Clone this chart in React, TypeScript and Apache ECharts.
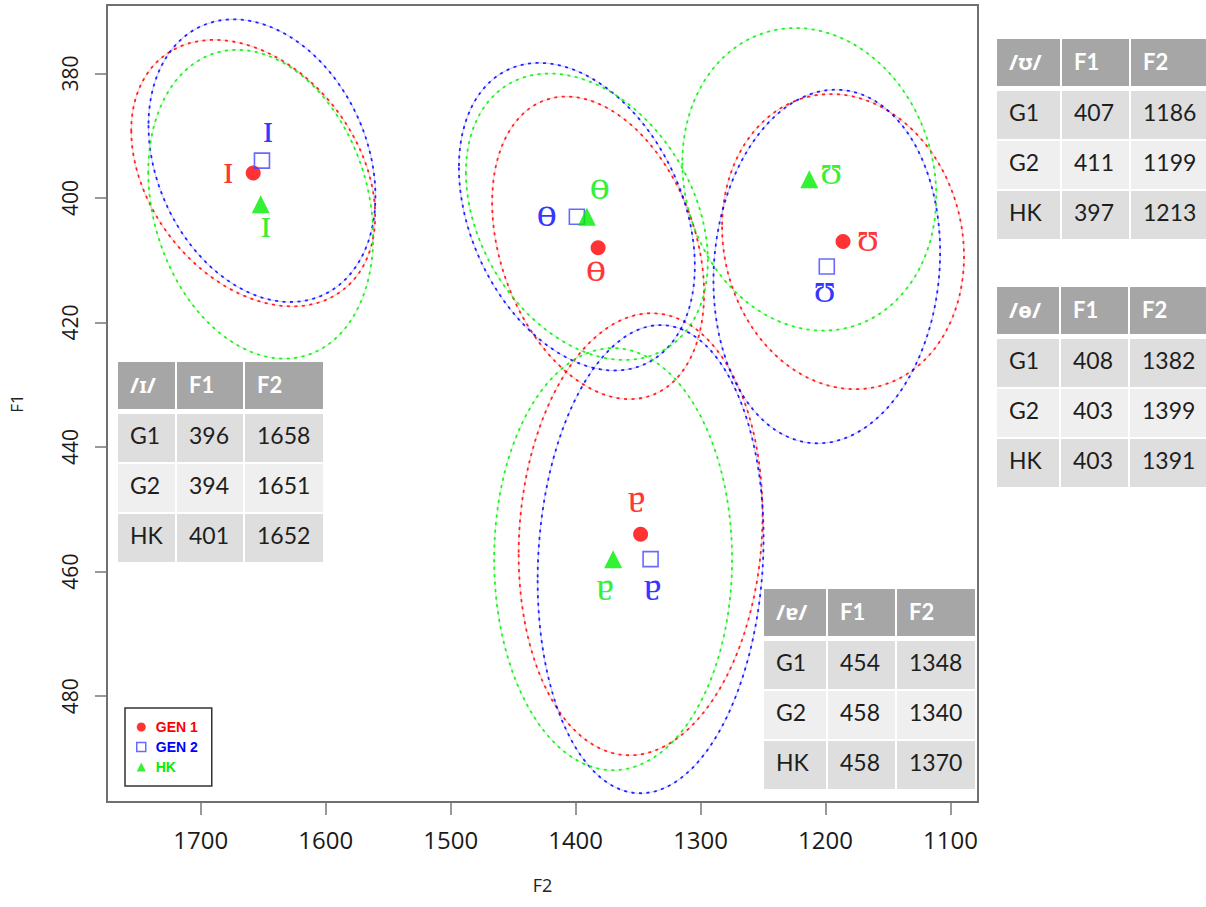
import React, { useEffect, useRef } from "react";
import * as echarts from "echarts";

// ---------------- data ----------------
const vowels = ["ɪ", "ɵ", "ʊ", "ɐ"];
const groups = ["G1", "G2", "HK"];
const seriesNames = ["GEN 1", "GEN 2", "HK"];
// F1 per vowel: [G1, G2, HK]
const f1Values = [
  [396, 394, 401],
  [408, 403, 403],
  [407, 411, 397],
  [454, 458, 458],
];
// F2 per vowel: [G1, G2, HK]
const f2Values = [
  [1658, 1651, 1652],
  [1382, 1399, 1391],
  [1186, 1199, 1213],
  [1348, 1340, 1370],
];
// ellipse half extents (F2 units, F1 units) and tilt (correlation) per vowel / group
const ellipseHalfF2 = [
  [97.6, 90.8, 90.0],
  [84.8, 94.4, 96.8],
  [96.8, 90.7, 101.6],
  [97.6, 90.4, 95.2],
];
const ellipseHalfF1 = [
  [21.4, 22.7, 24.8],
  [24.3, 24.7, 23.0],
  [23.7, 28.4, 24.3],
  [35.5, 37.6, 33.9],
];
const ellipseTilt = [
  [-0.32, -0.25, -0.21],
  [-0.3, -0.32, -0.31],
  [-0.1, 0.08, -0.11],
  [0.09, 0.09, 0.0],
];
const xTicks = [1700, 1600, 1500, 1400, 1300, 1200, 1100];
const yTicks = [380, 400, 420, 440, 460, 480];

// ---------------- layout / style ----------------
const colors = ["#ff0000", "#0000ff", "#00ee00"];
const symbols = ["circle", "rect", "triangle"];
const symbolSizes = [15, 15, 18];
// label offsets [vowel][group] relative to marker (px)
const labelOffsets = [
  [[-25, -4], [6, -32], [5, 19]],
  [[-2, 20], [-30, -4], [13, -31]],
  [[25, -4], [-2, 22], [22, -9]],
  [[-4, -36], [2, 27], [-8, 27]],
];
const tableLayout = [
  { x: 118, y: 362, cols: [57, 66, 78] },
  { x: 997, y: 287, cols: [62, 67, 78] },
  { x: 997, y: 39, cols: [63, 67, 78] },
  { x: 764, y: 589, cols: [62, 67, 78] },
];
const rowFills = ["#dedede", "#efefef", "#dedede"];
const headerFill = "#a6a6a6";
const tableFont = "Lato, 'Noto Sans', sans-serif";
const axisFont = "'Open Sans', 'Liberation Sans', sans-serif";

function buildTables() {
  const els: any[] = [];
  vowels.forEach((v, vi) => {
    const L = tableLayout[vi];
    const colX = [L.x, L.x + L.cols[0] + 2, L.x + L.cols[0] + L.cols[1] + 4];
    const header = ["/" + v + "/", "F1", "F2"];
    for (let c = 0; c < 3; c++) {
      els.push({
        type: "rect",
        z: 100,
        shape: { x: colX[c], y: L.y, width: L.cols[c], height: 47 },
        style: { fill: headerFill },
      });
      els.push({
        type: "text",
        z: 101,
        x: colX[c] + 12,
        y: L.y + 22,
        style: {
          text: header[c],
          fill: "#ffffff",
          fontSize: 22,
          fontWeight: "bold",
          fontFamily: c === 0 ? "'Noto Sans', 'DejaVu Sans', sans-serif" : tableFont,
          verticalAlign: "middle",
          align: "left",
        },
      });
    }
    for (let r = 0; r < 3; r++) {
      const ry = L.y + 52 + r * 50;
      const cells = [groups[r], String(f1Values[vi][r]), String(f2Values[vi][r])];
      for (let c = 0; c < 3; c++) {
        els.push({
          type: "rect",
          z: 100,
          shape: { x: colX[c], y: ry, width: L.cols[c], height: 48 },
          style: { fill: rowFills[r] },
        });
        els.push({
          type: "text",
          z: 101,
          x: colX[c] + 12,
          y: ry + 21,
          style: {
            text: cells[c],
            fill: "#1e1e1e",
            fontSize: 23,
            fontFamily: tableFont,
            verticalAlign: "middle",
            align: "left",
          },
        });
      }
    }
  });
  return els;
}

function makeRenderEllipse(color: string) {
  return (params: any, api: any) => {
    const c2 = api.value(0);
    const c1 = api.value(1);
    const a = api.value(2);
    const b = api.value(3);
    const r = api.value(4);
    const s = Math.sqrt(1 - r * r);
    const pts: number[][] = [];
    const N = 160;
    for (let i = 0; i <= N; i++) {
      const t = (2 * Math.PI * i) / N;
      pts.push(
        api.coord([c2 + a * Math.cos(t), c1 + b * (r * Math.cos(t) + s * Math.sin(t))])
      );
    }
    return {
      type: "group",
      children: [
        {
          type: "polyline",
          shape: { points: pts },
          style: { fill: "none", stroke: color, lineWidth: 1.1, opacity: 0.2 },
        },
        {
          type: "polyline",
          shape: { points: pts },
          style: { fill: "none", stroke: color, lineWidth: 1.8, lineDash: [3, 4.5], opacity: 0.85 },
        },
      ],
    };
  };
}

export default function App() {
  const ref = useRef<HTMLDivElement>(null);
  useEffect(() => {
    if (!ref.current) return;
    const chart = echarts.init(ref.current, undefined, { renderer: "svg" });

    const ellipseSeries = groups.map((g, gi) => ({
      name: "ellipse-" + g,
      type: "custom",
      renderItem: makeRenderEllipse(colors[gi]),
      clip: true,
      silent: true,
      z: 2,
      encode: { x: 0, y: 1 },
      data: vowels.map((v, vi) => [
        f2Values[vi][gi],
        f1Values[vi][gi],
        ellipseHalfF2[vi][gi],
        ellipseHalfF1[vi][gi],
        ellipseTilt[vi][gi],
      ]),
    }));

    const scatterSeries = groups.map((g, gi) => ({
      name: seriesNames[gi],
      type: "scatter",
      symbol: symbols[gi],
      symbolSize: symbolSizes[gi],
      z: 4,
      itemStyle:
        gi === 1
          ? { color: "rgba(0,0,0,0)", borderColor: "#4444ff", borderWidth: 1.6 }
          : { color: colors[gi] },
      label: {
        show: true,
        position: "inside",
        formatter: "{b}",
        color: colors[gi],
        fontSize: 40,
        fontFamily: "'Liberation Serif', 'DejaVu Serif', serif",
      },
      data: vowels.map((v, vi) => ({
        name: v,
        value: [f2Values[vi][gi], f1Values[vi][gi]],
        label: { offset: labelOffsets[vi][gi] },
      })),
    }));

    chart.setOption({
      animation: false,
      backgroundColor: "#ffffff",
      grid: {
        left: 107,
        top: 5,
        width: 871,
        height: 797,
        show: true,
        borderColor: "#707070",
        borderWidth: 2,
        backgroundColor: "rgba(0,0,0,0)",
      },
      xAxis: {
        type: "value",
        inverse: true,
        min: 1078,
        max: 1775,
        name: "F2",
        nameLocation: "middle",
        nameGap: 74,
        nameTextStyle: { fontSize: 18, color: "#222", fontFamily: axisFont },
        axisLine: { show: true, lineStyle: { color: "#707070", width: 2 } },
        axisTick: {
          show: true,
          customValues: xTicks,
          length: 13,
          lineStyle: { color: "#777", width: 1.5 },
        },
        axisLabel: {
          customValues: xTicks,
          formatter: (v: number) => String(v),
          fontSize: 24,
          color: "#1a1a1a",
          margin: 25,
          fontFamily: axisFont,
        },
        splitLine: { show: false },
      },
      yAxis: {
        type: "value",
        inverse: true,
        min: 369,
        max: 497,
        name: "F1",
        nameLocation: "middle",
        nameRotate: 90,
        nameGap: 82,
        nameTextStyle: { fontSize: 17, color: "#222", fontFamily: axisFont },
        axisLine: { show: true, lineStyle: { color: "#707070", width: 2 } },
        axisTick: {
          show: true,
          customValues: yTicks,
          length: 12,
          lineStyle: { color: "#777", width: 1.5 },
        },
        axisLabel: {
          customValues: yTicks,
          formatter: (v: number) => String(v),
          rotate: 90,
          fontSize: 21,
          color: "#1a1a1a",
          margin: 27,
          fontFamily: axisFont,
        },
        splitLine: { show: false },
      },
      legend: {
        orient: "vertical",
        left: 125,
        top: 708,
        padding: [12, 14, 12, 11],
        itemGap: 6,
        itemWidth: 9,
        itemHeight: 9,
        borderColor: "#333",
        borderWidth: 1.5,
        backgroundColor: "#ffffff",
        selectedMode: false,
        textStyle: {
          fontSize: 14,
          fontWeight: "bold",
          fontFamily: "'Liberation Sans', sans-serif",
          padding: [0, 0, 0, 5],
          lineHeight: 14,
        },
        data: seriesNames.map((n, i) => ({
          name: n,
          icon: symbols[i],
          itemStyle:
            i === 1
              ? { color: "rgba(0,0,0,0)", borderColor: "#4444ff", borderWidth: 1.5 }
              : { color: colors[i] },
          textStyle: { color: colors[i] },
        })),
      },
      graphic: buildTables(),
      series: [...ellipseSeries, ...scatterSeries],
    });

    return () => chart.dispose();
  }, []);

  return (
    <div
      ref={ref}
      style={{ position: "fixed", left: 0, top: 0, width: 1206, height: 907, background: "#fff" }}
    />
  );
}
